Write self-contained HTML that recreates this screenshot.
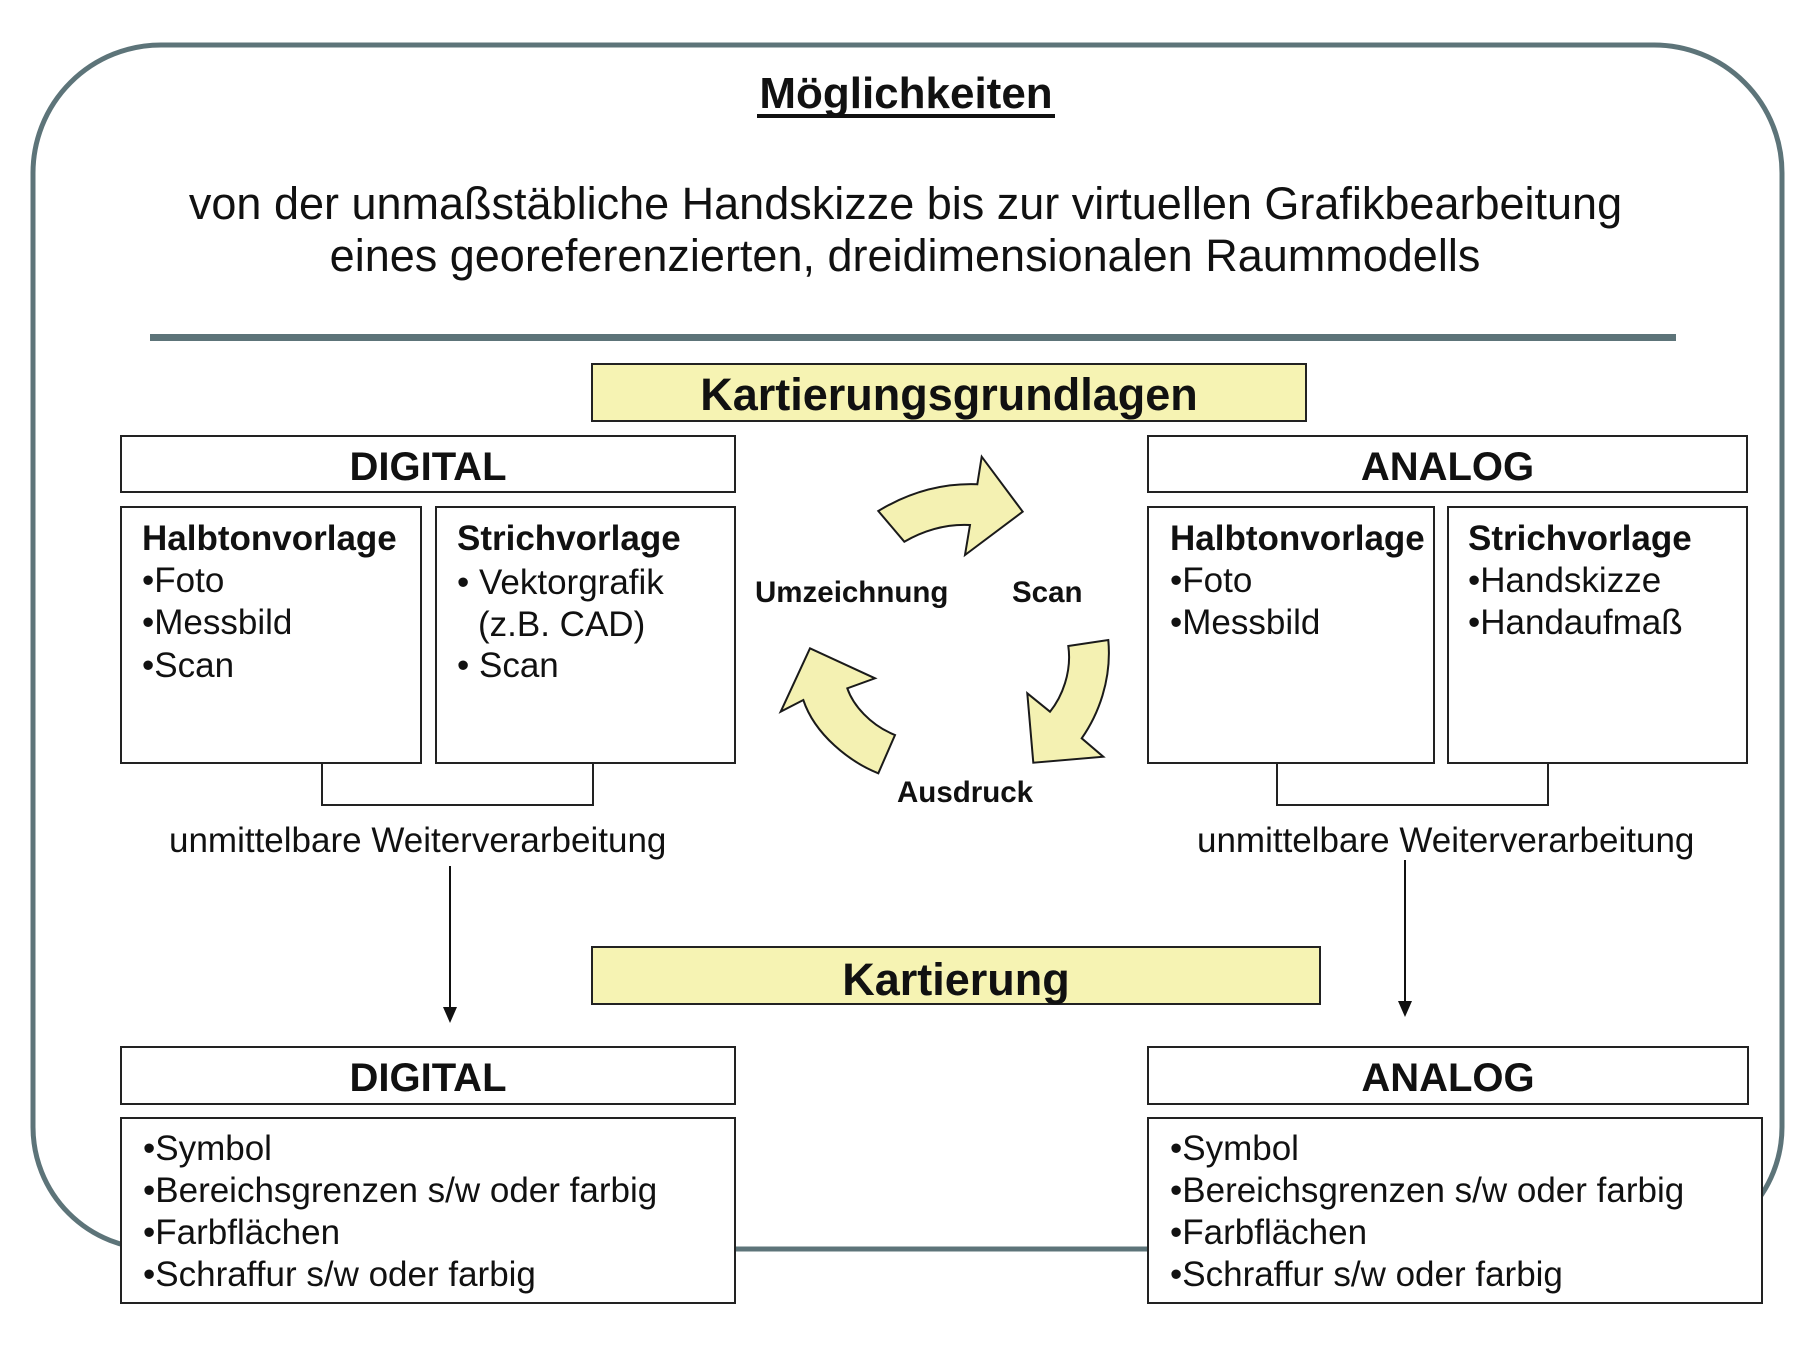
<!DOCTYPE html>
<html>
<head>
<meta charset="utf-8">
<style>
  html, body { margin:0; padding:0; background:#ffffff; }
  body { width:1812px; height:1356px; overflow:hidden; }
  svg { display:block; }
  text { font-family: "Liberation Sans", Arial, sans-serif; fill:#111; }
  .b { font-weight:bold; }
</style>
</head>
<body>
<svg width="1812" height="1356" viewBox="0 0 1812 1356" xmlns="http://www.w3.org/2000/svg">
  <rect x="0" y="0" width="1812" height="1356" fill="#ffffff"/>

  <!-- outer rounded frame -->
  <path d="M 161 45 H 1654 A 128 128 0 0 1 1782 173 V 1127 A 122 122 0 0 1 1660 1249 H 155 A 122 122 0 0 1 33 1127 V 173 A 128 128 0 0 1 161 45 Z"
        fill="none" stroke="#5d7479" stroke-width="5"/>

  <!-- title -->
  <text x="906" y="108" font-size="44" class="b" text-anchor="middle">Möglichkeiten</text>
  <rect x="757" y="114" width="298" height="4" fill="#111"/>

  <!-- subtitle -->
  <text x="905.5" y="219" font-size="45" text-anchor="middle">von der unmaßstäbliche Handskizze bis zur virtuellen Grafikbearbeitung</text>
  <text x="905" y="271" font-size="45" text-anchor="middle">eines georeferenzierten, dreidimensionalen Raummodells</text>

  <!-- rule -->
  <rect x="150" y="334" width="1526" height="7" fill="#5d7479"/>

  <!-- Kartierungsgrundlagen -->
  <rect x="592" y="364" width="714" height="57" fill="#f6f3b3" stroke="#222" stroke-width="2"/>
  <text x="949" y="410" font-size="45" class="b" text-anchor="middle">Kartierungsgrundlagen</text>

  <!-- DIGITAL top -->
  <rect x="121" y="436" width="614" height="56" fill="#fff" stroke="#222" stroke-width="2"/>
  <text x="428" y="480" font-size="40" class="b" text-anchor="middle">DIGITAL</text>

  <rect x="121" y="507" width="300" height="256" fill="#fff" stroke="#222" stroke-width="2"/>
  <text x="142" y="550" font-size="35" class="b">Halbtonvorlage</text>
  <text x="142" y="592" font-size="35">•Foto</text>
  <text x="142" y="634" font-size="35">•Messbild</text>
  <text x="142" y="677" font-size="35">•Scan</text>

  <rect x="436" y="507" width="299" height="256" fill="#fff" stroke="#222" stroke-width="2"/>
  <text x="457" y="550" font-size="35" class="b">Strichvorlage</text>
  <text x="457" y="594" font-size="35">• Vektorgrafik</text>
  <text x="478" y="636" font-size="35">(z.B. CAD)</text>
  <text x="457" y="677" font-size="35">• Scan</text>

  <polyline points="322,763 322,805 593,805 593,763" fill="none" stroke="#222" stroke-width="2"/>
  <text x="169" y="852" font-size="35">unmittelbare Weiterverarbeitung</text>

  <line x1="450" y1="866" x2="450" y2="1009" stroke="#111" stroke-width="2"/>
  <polygon points="443,1007 457,1007 450,1023" fill="#111"/>

  <!-- ANALOG top -->
  <rect x="1148" y="436" width="599" height="56" fill="#fff" stroke="#222" stroke-width="2"/>
  <text x="1447.5" y="480" font-size="40" class="b" text-anchor="middle">ANALOG</text>

  <rect x="1148" y="507" width="286" height="256" fill="#fff" stroke="#222" stroke-width="2"/>
  <text x="1170" y="550" font-size="35" class="b">Halbtonvorlage</text>
  <text x="1170" y="592" font-size="35">•Foto</text>
  <text x="1170" y="634" font-size="35">•Messbild</text>

  <rect x="1448" y="507" width="299" height="256" fill="#fff" stroke="#222" stroke-width="2"/>
  <text x="1468" y="550" font-size="35" class="b">Strichvorlage</text>
  <text x="1468" y="592" font-size="35">•Handskizze</text>
  <text x="1468" y="634" font-size="35">•Handaufmaß</text>

  <polyline points="1277,763 1277,805 1548,805 1548,763" fill="none" stroke="#222" stroke-width="2"/>
  <text x="1197" y="852" font-size="35">unmittelbare Weiterverarbeitung</text>

  <line x1="1405" y1="860" x2="1405" y2="1003" stroke="#111" stroke-width="2"/>
  <polygon points="1398,1001 1412,1001 1405,1017" fill="#111"/>

  <!-- cycle arrows -->
  <path d="M 878.3 511 Q 925.6 482.4 977.3 484.3 L 981.7 456.7 L 1022.7 511.7 L 965 555 L 970 525 Q 936.3 523.3 904.3 541.7 Z"
        fill="#f4f1b2" stroke="#1a1a1a" stroke-width="2" stroke-linejoin="miter"/>
  <path d="M 1068.3 646 L 1108.3 640 C 1112 680 1098 715 1081.7 738.3 L 1103.3 756.7 L 1033.3 762.7 L 1027.3 693.3 L 1050 711.7 C 1062 697 1072 672 1068.3 646 Z"
        fill="#f4f1b2" stroke="#1a1a1a" stroke-width="2"/>
  <path d="M 878.3 773.3 C 850 762 815 735 803.3 700 L 780.7 711.7 L 810 648.3 L 875 678.3 L 847.3 688.3 C 853 705 870 725 895 735 Z"
        fill="#f4f1b2" stroke="#1a1a1a" stroke-width="2"/>

  <text x="755" y="602" font-size="29.5" class="b">Umzeichnung</text>
  <text x="1012" y="602" font-size="29.5" class="b">Scan</text>
  <text x="897" y="802" font-size="29.5" class="b">Ausdruck</text>

  <!-- Kartierung -->
  <rect x="592" y="947" width="728" height="57" fill="#f6f3b3" stroke="#222" stroke-width="2"/>
  <text x="956" y="995" font-size="45" class="b" text-anchor="middle">Kartierung</text>

  <!-- bottom DIGITAL -->
  <rect x="121" y="1047" width="614" height="57" fill="#fff" stroke="#222" stroke-width="2"/>
  <text x="428" y="1091" font-size="40" class="b" text-anchor="middle">DIGITAL</text>
  <rect x="121" y="1118" width="614" height="185" fill="#fff" stroke="#222" stroke-width="2"/>
  <text x="143" y="1160" font-size="35">•Symbol</text>
  <text x="143" y="1202" font-size="35">•Bereichsgrenzen s/w oder farbig</text>
  <text x="143" y="1244" font-size="35">•Farbflächen</text>
  <text x="143" y="1286" font-size="35">•Schraffur s/w oder farbig</text>

  <!-- bottom ANALOG -->
  <rect x="1148" y="1047" width="600" height="57" fill="#fff" stroke="#222" stroke-width="2"/>
  <text x="1448" y="1091" font-size="40" class="b" text-anchor="middle">ANALOG</text>
  <rect x="1148" y="1118" width="614" height="185" fill="#fff" stroke="#222" stroke-width="2"/>
  <text x="1170" y="1160" font-size="35">•Symbol</text>
  <text x="1170" y="1202" font-size="35">•Bereichsgrenzen s/w oder farbig</text>
  <text x="1170" y="1244" font-size="35">•Farbflächen</text>
  <text x="1170" y="1286" font-size="35">•Schraffur s/w oder farbig</text>
</svg>
</body>
</html>
